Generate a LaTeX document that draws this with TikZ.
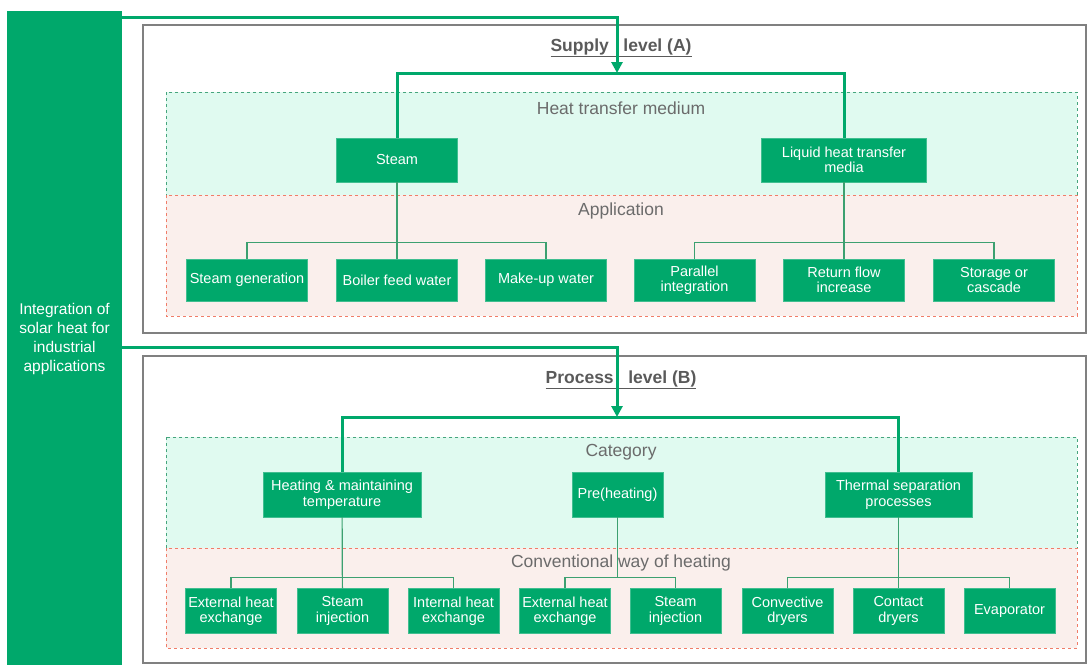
\documentclass[tikz,border=0pt]{standalone}
\usepackage{fontspec}
\setmainfont{Liberation Sans}
\usetikzlibrary{arrows.meta}
\usetikzlibrary{calc}
\definecolor{sgreen}{RGB}{0,168,107}
\definecolor{lgreen}{RGB}{60,160,112}
\definecolor{mintfill}{RGB}{224,250,240}
\definecolor{mintline}{RGB}{70,165,125}
\definecolor{pinkfill}{RGB}{250,239,236}
\definecolor{pinkline}{RGB}{240,125,105}
\definecolor{framegray}{RGB}{128,128,128}
\definecolor{titlegray}{RGB}{90,90,90}
\tikzset{
	%	box/.style={draw,minimum size=1.5em},
	box/.style={fill=sgreen,draw=sgreen!75!white,text=white,align=center,inner sep=0pt,
		font=\fontsize{14.5}{15.5}\selectfont,minimum width=121pt,minimum height=42pt},
	small/.style={box,minimum width=91pt,minimum height=45pt},
	zone/.style={font=\fontsize{17.5}{20}\selectfont,text=titlegray!90!white},
	level/.style={font=\fontsize{17.5}{20}\selectfont\bfseries,text=titlegray},
	trunk/.style={draw=sgreen,line width=3pt},
	branch/.style={draw=lgreen,line width=1.2pt},
	edge/.style={trunk,-{Triangle[length=11pt,width=11pt]}}
}
\begin{document}
\begin{tikzpicture}[x=1pt,y=-1pt]
	\useasboundingbox (0,0) rectangle (1087,664);
	
	% supply level
	\draw[framegray,line width=1.5pt] (143,25) rectangle (1086,333);
	\draw[mintline,dashed,fill=mintfill,line width=0.6pt] (166,92) rectangle (1077,195);
	\draw[pinkline,dashed,fill=pinkfill,line width=0.6pt] (166,195) rectangle (1077,316);
	\node[level] (titA) at (621,47.5) {\underline{Supply\ \ \ level (A)}};
	\node[zone] (medium) at (621,108) {Heat transfer medium};
	\node[zone] (appl) at (621,211) {Application};
	
	\node[box,minimum height=44pt] (steam) at (397,160) {Steam};
	\node[box,minimum width=165pt,minimum height=44pt] (liquid) at (844,160) {Liquid heat transfer\\media};
	\node[box] (sgen) at (247,280) {Steam generation};
	\node[box] (boiler) at (397,280) {Boiler feed water};
	\node[box] (makeup) at (546,280) {Make-up water};
	\node[box] (para) at (694.5,280) {Parallel\\integration};
	\node[box] (ret) at (844,280) {Return flow\\increase};
	\node[box] (stor) at (994,280) {Storage or\\cascade};
	
	\coordinate (hubA) at (617,73);
	\draw[trunk] (steam.north) |- (hubA) -| (liquid.north);
	\draw[branch] (steam) -- (boiler);
	\draw[branch] (sgen.north) -- ++(0,-16) -| (makeup.north);
	\draw[branch] (liquid) -- (ret);
	\draw[branch] (para.north) -- ++(0,-16) -| (stor.north);
	
	% process level
	\draw[framegray,line width=1.5pt] (143,356) rectangle (1086,663);
	\draw[mintline,dashed,fill=mintfill,line width=0.6pt] (166,437) rectangle (1077,548);
	\draw[pinkline,dashed,fill=pinkfill,line width=0.6pt] (166,548) rectangle (1077,648);
	\node[level] (titB) at (621,379.5) {\underline{Process\ \ \ level (B)}};
	\node[zone] (categ) at (621,452) {Category};
	\node[zone] (conv) at (621,563) {Conventional way of heating};
	
	\node[box,minimum width=158pt,minimum height=45pt] (heat) at (342,494.5) {Heating \& maintaining\\temperature};
	\node[small] (pre) at (617.5,494.5) {Pre(heating)};
	\node[box,minimum width=147pt,minimum height=45pt] (therm) at (898.5,494.5) {Thermal separation\\processes};
	\node[small] (ext1) at (231,611) {External heat\\exchange};
	\node[small] (inj1) at (342.5,611) {Steam\\injection};
	\node[small] (int1) at (453.5,611) {Internal heat\\exchange};
	\node[small] (ext2) at (565,611) {External heat\\exchange};
	\node[small] (inj2) at (675.5,611) {Steam\\injection};
	\node[small] (conv1) at (787.5,611) {Convective\\dryers};
	\node[small] (cont) at (898.5,611) {Contact\\dryers};
	\node[small] (evap) at (1009.5,611) {Evaporator};
	
	\coordinate (hubB) at (617,417);
	\draw[trunk] (heat.north) |- (hubB) -| (therm.north);
	\draw[branch] (heat) -- (inj1);
	\draw[branch] (ext1.north) -- ++(0,-11) -| (int1.north);
	\draw[branch] (pre.south) -- (pre.south |- 0,578);
	\draw[branch] (ext2.north) -- ++(0,-11) -| (inj2.north);
	\draw[branch] (therm) -- (cont);
	\draw[branch] (conv1.north) -- ++(0,-11) -| (evap.north);
	
	% left bar
	\node[fill=sgreen,text=white,align=center,inner sep=0pt,minimum width=115pt,minimum height=656pt,
		font=\fontsize{15.5}{19}\selectfont] (intg) at (64.5,339) {Integration of\\solar heat for\\industrial\\applications};
	\draw[edge] (intg.east |- 0,17) -| (hubA);
	\draw[edge] (intg.east |- 0,347) -| (hubB);
\end{tikzpicture}
\end{document}
